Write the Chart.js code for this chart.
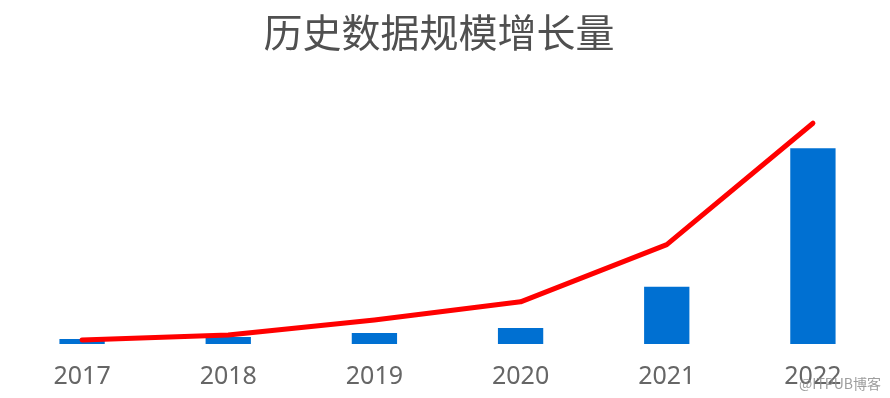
<!DOCTYPE html>
<html>
<head>
<meta charset="utf-8">
<script src="https://cdn.jsdelivr.net/npm/chart.js@4"></script>
<style>
  html, body { margin: 0; padding: 0; background: #ffffff; }
  #wrap { width: 890px; height: 398px; position: relative; }
</style>
</head>
<body>
<div id="wrap"><canvas id="c" width="890" height="398"></canvas></div>
<script>
// ---- data ----
const titleText = "历史数据规模增长量";
const years = ["2017", "2018", "2019", "2020", "2021", "2022"];
const barValues = [5, 7, 11, 16, 57, 195];
const lineValues = [4, 9, 24, 42, 99, 220];
const watermarkText = "@ITPUB博客";
const yMax = 277;

const overlayText = {
  id: 'overlayText',
  afterDraw(chart) {
    const ctx = chart.ctx;
    ctx.save();
    // title
    ctx.font = '39px "Noto Sans CJK SC", sans-serif';
    ctx.fillStyle = '#505050';
    ctx.textAlign = 'center';
    ctx.textBaseline = 'middle';
    ctx.fillText(titleText, 439, 32);
    // watermark
    ctx.font = '14px "Noto Sans CJK SC", sans-serif';
    ctx.fillStyle = 'rgba(140,140,140,0.85)';
    ctx.textAlign = 'right';
    ctx.textBaseline = 'alphabetic';
    ctx.fillText(watermarkText, 881, 389);
    ctx.restore();
  }
};

new Chart(document.getElementById('c'), {
  type: 'bar',
  data: {
    labels: years,
    datasets: [
      {
        type: 'line',
        data: lineValues,
        borderColor: '#ff0000',
        borderWidth: 5,
        tension: 0,
        pointRadius: 0,
        pointHoverRadius: 0,
        borderCapStyle: 'round',
        borderJoinStyle: 'round',
        fill: false,
        clip: false,
        order: 0
      },
      {
        type: 'bar',
        data: barValues,
        backgroundColor: '#0070d2',
        borderWidth: 0,
        categoryPercentage: 1,
        barPercentage: 0.31,
        order: 1
      }
    ]
  },
  options: {
    responsive: false,
    animation: false,
    devicePixelRatio: 1,
    layout: { padding: { left: 9, right: 4, top: 66, bottom: 0 } },
    plugins: {
      legend: { display: false },
      tooltip: { enabled: false },
      title: { display: false }
    },
    scales: {
      x: {
        offset: true,
        grid: { display: false },
        border: { display: false },
        afterFit(scale) { scale.height = 54; },
        ticks: {
          color: '#666666',
          padding: 10,
          font: { family: '"Noto Sans", sans-serif', size: 25 }
        }
      },
      y: {
        display: false,
        min: 0,
        max: yMax
      }
    }
  },
  plugins: [overlayText]
});
</script>
</body>
</html>
